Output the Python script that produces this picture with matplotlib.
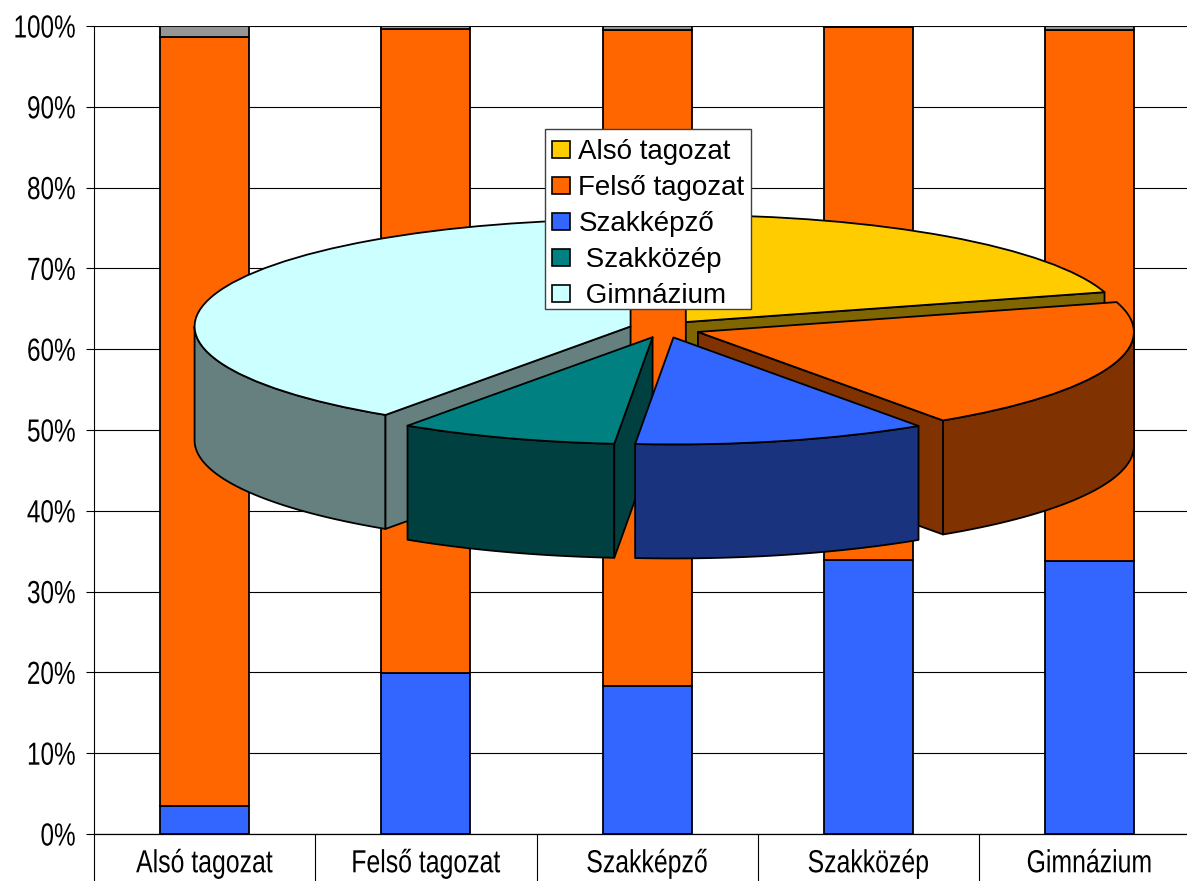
import numpy as np
import matplotlib
matplotlib.use("Agg")
import matplotlib.pyplot as plt
from matplotlib.patches import Wedge, Polygon, Patch, Rectangle
from matplotlib.patheffects import AbstractPathEffect
from matplotlib.ticker import PercentFormatter
from matplotlib.transforms import Affine2D

categories = ["Alsó tagozat", "Felső tagozat", "Szakképző", "Szakközép", "Gimnázium"]
blue_share = [3.45, 19.9, 18.3, 33.9, 33.8]
orange_share = [95.25, 79.7, 81.2, 66.0, 65.7]
gray_share = [1.3, 0.4, 0.5, 0.1, 0.5]

pie_labels = ["Alsó tagozat", "Felső tagozat", "Szakképző", " Szakközép", " Gimnázium"]
pie_values = [20.5, 20.0, 10.9, 8.1, 40.5]
pie_colors = ["#FFCC00", "#FF6600", "#3366FF", "#008080", "#CCFFFF"]
side_colors = ["#806600", "#803300", "#1A337F", "#004040", "#668080"]

W, H = 1187, 881
plt.rcParams["font.family"] = ["Liberation Sans", "DejaVu Sans"]


class Squeeze(AbstractPathEffect):
    """Condense real text horizontally around its alignment anchor."""

    def __init__(self, sx, anchor, dx=0):
        super().__init__()
        self.sx, self.anchor, self.dx = sx, anchor, dx

    def draw_path(self, renderer, gc, tpath, affine, rgbFace=None):
        w = tpath.get_extents().x1
        shift = (1 - self.sx) * w * self.anchor
        tr = Affine2D().scale(self.sx, 1).translate(shift, 0) + affine + Affine2D().translate(self.dx, 0)
        renderer.draw_path(gc, tpath, tr, rgbFace)


fig = plt.figure(figsize=(W / 100, H / 100), dpi=100, facecolor="white")

# --- stacked bars -------------------------------------------------------
L, R, T, B = 94, 1187, 26, 834
ax = fig.add_axes([L / W, 1 - B / H, (R - L) / W, (B - T) / H])
step = (1200.6 - L) / 5
ax.set_xlim(-0.5, -0.5 + (R - L) / step)
ax.set_ylim(0, 100)
x = np.arange(len(categories))
bw = 89 / step
edge = dict(edgecolor="black", linewidth=1.3, width=bw, zorder=3)
b1 = np.array(blue_share)
b2 = b1 + np.array(orange_share)
ax.bar(x, blue_share, color="#3366FF", **edge)
ax.bar(x, orange_share, bottom=b1, color="#FF6600", **edge)
ax.bar(x, gray_share, bottom=b2, color="#969696", **edge)

ax.set_yticks(np.arange(0, 101, 10))
ax.yaxis.set_major_formatter(PercentFormatter(100, decimals=0))
ax.grid(axis="y", color="black", linewidth=0.8, zorder=0)
ax.set_axisbelow(True)
ax.tick_params(axis="y", length=5.8, width=0.8, pad=0, labelsize=23)
for t in ax.get_yticklabels():
    t.set_path_effects([Squeeze(0.76, 1.0, dx=-10)])
ax.set_xticks(x)
ax.set_xticklabels(categories, fontsize=23)
for t in ax.get_xticklabels():
    t.set_path_effects([Squeeze(0.777, 0.5)])
ax.tick_params(axis="x", length=0, pad=11)
ax.set_xticks(np.arange(-0.5, 4.4, 1), minor=True)
ax.tick_params(axis="x", which="minor", length=36, width=0.8)
for s in ("top", "right"):
    ax.spines[s].set_visible(False)
ax.spines["left"].set_linewidth(0.8)
ax.spines["bottom"].set_linewidth(0.9)

# --- exploded 3-D pie overlay: data units = unit circle of the pie -------
cx, cy, a, b = 664.5, 329.0, 436.0, 107.0
depth = 114.0 / b
explode = 35.5 / a
pa = fig.add_axes([0, 0, 1, 1], facecolor="none", zorder=5)
pa.set_xlim((0 - cx) / a, (W - cx) / a)
pa.set_ylim((cy - H) / b, cy / b)
pa.axis("off")

fr = np.array(pie_values) / sum(pie_values) * 360
hi = 90 - np.concatenate(([0], np.cumsum(fr)[:-1]))
lo = hi - fr
mid = (hi + lo) / 2
lw = 1.3
for i in np.argsort(-np.sin(np.radians(mid))):
    ox = explode * np.cos(np.radians(mid[i]))
    oy = explode * np.sin(np.radians(mid[i]))
    style = dict(facecolor=side_colors[i], edgecolor="black", linewidth=lw, joinstyle="round")
    # outer rim, only the part that faces the viewer
    for shift in (0, -360):
        t0, t1 = max(lo[i] - shift, -180), min(hi[i] - shift, 0)
        if t1 > t0:
            t = np.radians(np.linspace(t0, t1, 80))
            top = np.c_[ox + np.cos(t), oy + np.sin(t)]
            bot = top[::-1] - [0, depth]
            pa.add_patch(Polygon(np.r_[top, bot], closed=True, **style))
    # cut faces
    for ang, sign in ((hi[i], 90), (lo[i], -90)):
        if np.sin(np.radians(ang + sign)) < -1e-6:
            ex, ey = np.cos(np.radians(ang)), np.sin(np.radians(ang))
            pts = [(ox, oy), (ox + ex, oy + ey), (ox + ex, oy + ey - depth), (ox, oy - depth)]
            pa.add_patch(Polygon(pts, closed=True, **style))
    pa.add_patch(Wedge((ox, oy), 1, lo[i], hi[i], facecolor=pie_colors[i],
                       edgecolor="black", linewidth=lw, joinstyle="round"))

pa.add_patch(Rectangle((545 / W, 1 - 309 / H), 206 / W, 180 / H, transform=fig.transFigure,
                       facecolor="white", edgecolor="#404040", linewidth=1.0, zorder=20))
handles = [Patch(facecolor=c, edgecolor="black", linewidth=1.2) for c in pie_colors]
leg = pa.legend(handles, pie_labels, loc="upper left",
                bbox_to_anchor=(545 / W, 1 - 132 / H), bbox_transform=fig.transFigure,
                fontsize=20, frameon=False, borderpad=0.26, borderaxespad=0,
                handlelength=0.65, handleheight=0.6, handletextpad=0.29,
                labelspacing=0.36)
leg.set_zorder(21)

fig.savefig("out.png", dpi=100)
